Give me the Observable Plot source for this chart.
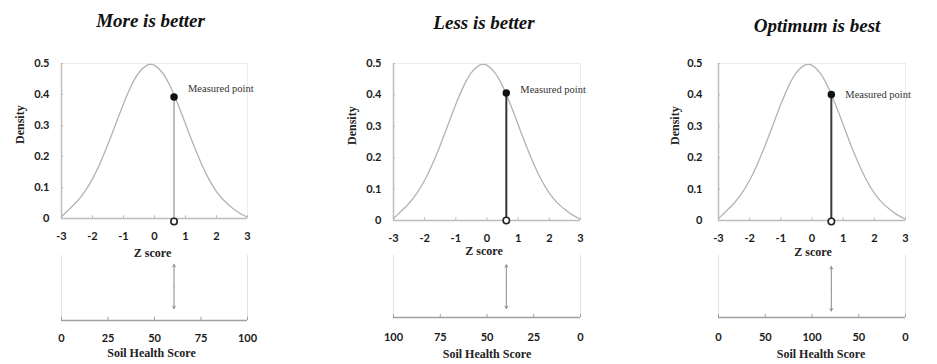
<!DOCTYPE html>
<html><head><meta charset="utf-8">
<script src="https://cdn.jsdelivr.net/npm/d3@7"></script>
<script src="https://cdn.jsdelivr.net/npm/@observablehq/plot@0.6"></script>
<style>
body{margin:0;background:#fff;}
#root{position:relative;width:937px;height:364px;overflow:hidden;background:#fff;}
.panel{position:absolute;top:0;height:364px;}
.panel svg{position:absolute;left:0;}
</style></head><body><div id="root"></div>
<script>
// ---- data ----
const zGrid = [-3,-2.75,-2.5,-2.25,-2,-1.75,-1.5,-1.25,-1,-0.75,-0.5,-0.25,-0.12,0,0.25,0.5,0.75,1,1.25,1.5,1.75,2,2.25,2.5,2.75,3];
const densityValues = [0.006,0.03,0.055,0.087,0.128,0.18,0.24,0.305,0.37,0.428,0.471,0.494,0.497,0.494,0.471,0.428,0.37,0.305,0.24,0.18,0.128,0.087,0.057,0.035,0.017,0.004];
const panelTitles = ["More is better", "Less is better", "Optimum is best"];
const measuredZ = [0.63, 0.62, 0.62];
const measuredDensity = [0.392, 0.406, 0.401];
const measuredLabel = "Measured point";
const zTicks = [-3, -2, -1, 0, 1, 2, 3];
const zTickLabels = ["-3", "-2", "-1", "0", "1", "2", "3"];
const densityTicks = [0, 0.1, 0.2, 0.3, 0.4, 0.5];
const densityTickLabels = ["0", "0.1", "0.2", "0.3", "0.4", "0.5"];
const scoreTickZ = [-3, -1.5, 0, 1.5, 3];
const scoreTickLabelsMore = ["0", "25", "50", "75", "100"];
const scoreTickLabelsLess = ["100", "75", "50", "25", "0"];
const scoreTickLabelsOpt = ["0", "50", "100", "50", "0"];
const zAxisTitle = "Z score";
const densityTitle = "Density";
const scoreTitle = "Soil Health Score";

// ---- layout (styles / positions) ----
const scoreLabels = [scoreTickLabelsMore, scoreTickLabelsLess, scoreTickLabelsOpt];
const layout = [
  {left: 0,   width: 310, ml: 61, mr: 63, axisY: 218, botAxis: 320, titleDy: -43, titleDx: -4, yPad: 12, densDx: -41, zDy: 35, zDx: -2,
   lineStroke: "#a8a8a8", lineW: 1.5, openDy: 3, labelDy: -8, sPad: 14, sDy: 33, sDx: -3, arrTop: 0.86, arrBot: 0.185},
  {left: 320, width: 300, ml: 73, mr: 40, axisY: 220, botAxis: 317, titleDy: -41, titleDx: -3, yPad: 12, densDx: -41, zDy: 31, zDx: -3,
   lineStroke: "#333", lineW: 2, openDy: 0, labelDy: -3, sPad: 15.5, sDy: 37, sDx: 0, arrTop: 0.85, arrBot: 0.145},
  {left: 630, width: 307, ml: 88, mr: 32, axisY: 220, botAxis: 317, titleDy: -38, titleDx: 5, yPad: 16, densDx: -43, zDy: 32, zDx: 1,
   lineStroke: "#3a3a3a", lineW: 2, openDy: 1, labelDy: 0, sPad: 15.5, sDy: 37, sDx: 9, arrTop: 0.82, arrBot: 0.105}
];

const curve = zGrid.map((z, i) => ({z, d: densityValues[i]}));
const root = document.getElementById("root");
const axisGray = "#bdbdbd";
const tickFont = {fontFamily: "Lato, 'DejaVu Sans', sans-serif", fontWeight: "bold", fontSize: 11, fill: "#1a1a1a"};
const serifBold = {fontFamily: "'Liberation Serif', 'Times New Roman', serif", fontWeight: "bold", fontSize: 12, fill: "#222"};

panelTitles.forEach((title, p) => {
  const L = layout[p];
  const div = document.createElement("div");
  div.className = "panel";
  div.style.left = L.left + "px";
  div.style.width = L.width + "px";
  root.appendChild(div);

  const topH = 265;
  const pt = {z: measuredZ[p], d: measuredDensity[p]};
  const top = Plot.plot({
    width: L.width, height: topH,
    marginLeft: L.ml, marginRight: L.mr, marginTop: 63, marginBottom: topH - L.axisY,
    style: "background:transparent;overflow:visible;",
    x: {domain: [-3, 3]},
    y: {domain: [0, 0.5]},
    marks: [
      Plot.ruleY([0.5], {x1: -3, x2: 3, stroke: "#ececec"}),
      Plot.ruleX([3], {y1: 0, y2: 0.5, stroke: "#ececec"}),
      Plot.ruleY([0], {x1: -3, x2: 3, stroke: axisGray, strokeWidth: 1.5}),
      Plot.ruleX([-3], {y1: 0, y2: 0.5, stroke: axisGray, strokeWidth: 1.5}),
      Plot.ruleX(zTicks, {y1: 0, y2: 0.009, stroke: axisGray}),
      Plot.ruleY(densityTicks, {x1: -3, x2: -2.93, stroke: axisGray}),
      Plot.line(curve, {x: "z", y: "d", curve: "natural", stroke: "#b3b3b3", strokeWidth: 1.3}),
      Plot.ruleX([pt], {x: "z", y1: 0, y2: "d", stroke: L.lineStroke, strokeWidth: L.lineW}),
      Plot.dot([pt], {x: "z", y: "d", r: 3, fill: "#111", stroke: "#111"}),
      Plot.dot([pt], {x: "z", y: 0, r: 3.2, fill: "#fff", stroke: "#222", strokeWidth: 1.6, dy: L.openDy}),
      Plot.text([pt], {x: "z", y: "d", text: () => measuredLabel, textAnchor: "start", dx: 14, dy: L.labelDy,
        fontFamily: "'Liberation Serif', 'Times New Roman', serif", fontSize: 10.5, fill: "#333"}),
      Plot.axisX({ticks: zTicks, tickSize: 0, tickPadding: 14, label: null,
        tickFormat: d => zTickLabels[zTicks.indexOf(d)], ...tickFont}),
      Plot.axisY({ticks: densityTicks, tickSize: 0, tickPadding: L.yPad, label: null,
        tickFormat: d => densityTickLabels[densityTicks.indexOf(d)], ...tickFont}),
      Plot.text([densityTitle], {frameAnchor: "left", rotate: -90, dx: L.densDx, dy: 3, lineAnchor: "middle", text: d => d, ...serifBold}),
      Plot.text([zAxisTitle], {frameAnchor: "bottom", dy: L.zDy, dx: L.zDx, lineAnchor: "middle", text: d => d, ...serifBold}),
      Plot.text([title], {frameAnchor: "top", dy: L.titleDy, dx: L.titleDx, lineAnchor: "middle", text: d => d,
        fontFamily: "'Liberation Serif', 'Times New Roman', serif", fontWeight: "bold", fontStyle: "italic", fontSize: 19, fill: "#111"})
    ]
  });
  top.style.top = "0px";
  div.appendChild(top);

  const botTop = 255;
  const botH = 109;
  const bottom = Plot.plot({
    width: L.width, height: botH,
    marginLeft: L.ml, marginRight: L.mr, marginTop: 0, marginBottom: botH - (L.botAxis - botTop),
    style: "background:transparent;overflow:visible;",
    x: {domain: [-3, 3]},
    y: {domain: [0, 1], axis: null},
    marks: [
      Plot.ruleX([-3, 3], {y1: 0, y2: 1, stroke: "#e2e2e2"}),
      Plot.ruleY([0], {x1: -3, x2: 3, stroke: "#a0a0a0", strokeWidth: 1.5}),
      Plot.ruleX(scoreTickZ, {y1: 0, y2: 0.05, stroke: "#a0a0a0"}),
      Plot.arrow([measuredZ[p]], {x1: d => d, x2: d => d, y1: (L.arrTop + L.arrBot) / 2, y2: L.arrTop,
        stroke: "#8a8a8a", strokeWidth: 1, headLength: 4}),
      Plot.arrow([measuredZ[p]], {x1: d => d, x2: d => d, y1: (L.arrTop + L.arrBot) / 2, y2: L.arrBot,
        stroke: "#8a8a8a", strokeWidth: 1, headLength: 4}),
      Plot.axisX({ticks: scoreTickZ, tickSize: 0, tickPadding: L.sPad, label: null,
        tickFormat: d => scoreLabels[p][scoreTickZ.indexOf(d)], ...tickFont}),
      Plot.text([scoreTitle], {frameAnchor: "bottom", dy: L.sDy, dx: L.sDx, lineAnchor: "middle", text: d => d, ...serifBold})
    ]
  });
  bottom.style.top = botTop + "px";
  div.appendChild(bottom);
});
</script>
</body></html>
